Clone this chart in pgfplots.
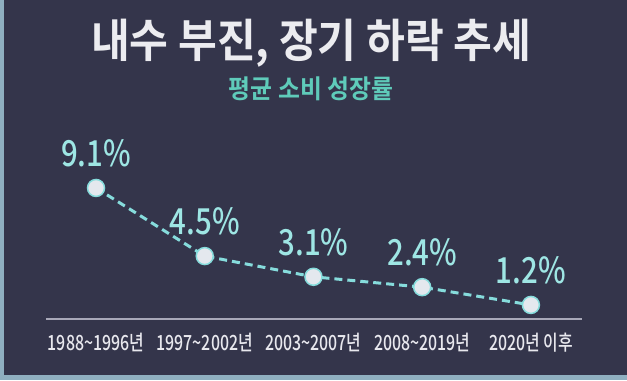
\documentclass[border=0pt]{standalone}
\usepackage{pgfplots}
\pgfplotsset{compat=1.18}
\usepackage{fontspec}
\newfontfamily\cjkbold[FakeStretch=0.92]{Noto Sans CJK KR Bold}
\newfontfamily\cjkmed[FakeStretch=0.82]{Noto Sans CJK KR Medium}
\newfontfamily\cjktick[FakeStretch=0.76]{Noto Sans CJK KR Medium}
\definecolor{bg}{HTML}{34354B}
\definecolor{titlec}{HTML}{ECECF0}
\definecolor{subc}{HTML}{5FCBBA}
\definecolor{valc}{HTML}{9EE6E4}
\definecolor{linec}{HTML}{86DCDC}
\definecolor{markc}{HTML}{E4E8EE}
\definecolor{axc}{HTML}{A8A8B8}
\definecolor{tickc}{HTML}{E8E8EE}
\definecolor{edge}{HTML}{8FAFC0}
\begin{document}
\begin{tikzpicture}[x=1bp,y=1bp]
\fill[bg] (0,0) rectangle (627,380);
\fill[edge] (0,0) rectangle (4,380);
\fill[edge] (0,0) rectangle (627,5);
\node[text=titlec, font=\cjkbold\fontsize{46}{50}\selectfont] at (311,337) {내수 부진, 장기 하락 추세};
\node[text=subc, font=\cjkbold\fontsize{26}{30}\selectfont] at (311,291) {평균 소비 성장률};
\begin{axis}[
  at={(46bp,61bp)}, anchor=south west,
  scale only axis, width=536bp, height=199bp,
  xmin=-0.46, xmax=4.47, ymin=0.25, ymax=13.69,
  axis x line*=bottom, axis y line=none,
  x axis line style={draw=axc, line width=2bp, -},
  xtick={0,1,2,3,4}, xticklabels={1988\textasciitilde1996년,1997\textasciitilde2002년,2003\textasciitilde2007년,2008\textasciitilde2019년,2020년 이후},
  major tick length=0pt,
  xticklabel style={text=tickc, font=\cjktick\fontsize{21}{23}\selectfont, yshift=-11bp},
  /pgf/number format/assume math mode=true,
  nodes near coords={\pgfmathprintnumber[fixed,precision=1,fixed zerofill,assume math mode=true]{\pgfplotspointmeta}\%},
  nodes near coords style={text=valc, font=\cjkmed\fontsize{36}{38}\selectfont, anchor=south, yshift=17bp},
  clip=false,
]
\addplot[linec, line width=3bp, dash pattern=on 8bp off 5bp,
  mark=*, mark size=8.5bp, mark options={solid, fill=markc, draw=linec, line width=1.5bp}]
  coordinates {(0,9.1) (1,4.5) (2,3.1) (3,2.4) (4,1.2)};
\end{axis}
\end{tikzpicture}
\end{document}
